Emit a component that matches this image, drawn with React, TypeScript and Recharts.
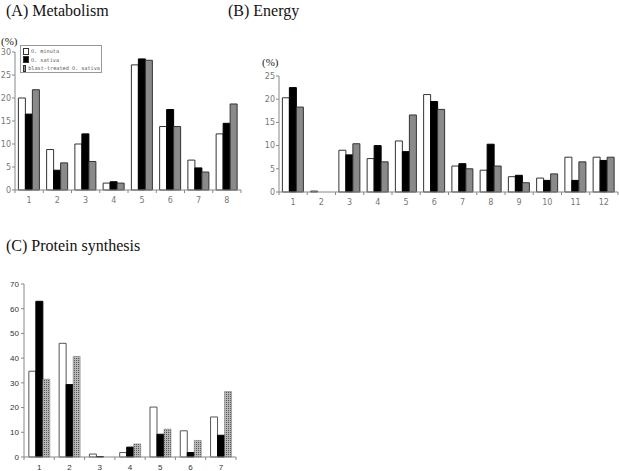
import React from 'react';
import { BarChart, Bar, XAxis, YAxis } from 'recharts';

const seriesNames = ['O. minuta', 'O. sativa', 'blast-treated O. sativa'];
const seriesFills = ['#ffffff', '#000000', '#8a8a8a'];

const metaCats = ['1', '2', '3', '4', '5', '6', '7', '8'];
const metaMinuta = [20, 8.8, 10, 1.5, 27.2, 13.8, 6.5, 12.2];
const metaSativa = [16.5, 4.3, 12.2, 1.8, 28.5, 17.5, 4.8, 14.5];
const metaBlast = [21.8, 5.9, 6.2, 1.5, 28.2, 13.8, 3.9, 18.7];
const metaTicks = [0, 5, 10, 15, 20, 25, 30];

const energyCats = ['1', '2', '3', '4', '5', '6', '7', '8', '9', '10', '11', '12'];
const energyMinuta = [20.3, 0.2, 9, 7.2, 11, 21, 5.6, 4.7, 3.3, 3, 7.5, 7.5];
const energySativa = [22.5, 0, 8, 10, 8.7, 19.5, 6.1, 10.3, 3.6, 2.5, 2.5, 6.8];
const energyBlast = [18.3, 0, 10.4, 6.5, 16.6, 17.8, 5, 5.6, 2, 3.9, 6.5, 7.5];
const energyTicks = [0, 5, 10, 15, 20, 25];

const protCats = ['1', '2', '3', '4', '5', '6', '7'];
const protMinuta = [34.7, 46, 1.2, 1.8, 20.2, 10.6, 16.2];
const protSativa = [63, 29.3, 0.2, 4, 9.2, 1.8, 8.8];
const protBlast = [31.5, 40.7, 0, 5.3, 11.3, 6.7, 26.5];
const protTicks = [0, 10, 20, 30, 40, 50, 60, 70];

const build = (cats: string[], a: number[], b: number[], c: number[]) =>
  cats.map((cat, i) => ({ cat, minuta: a[i], sativa: b[i], blast: c[i] }));

const metaData = build(metaCats, metaMinuta, metaSativa, metaBlast);
const energyData = build(energyCats, energyMinuta, energySativa, energyBlast);
const protData = build(protCats, protMinuta, protSativa, protBlast);

const makeCatTick = (font: string, color: string, size: number) => (props: any) => {
  const { x, y, payload, width, visibleTicksCount, index } = props;
  const half = width / visibleTicksCount / 2;
  return (
    <g>
      <line x1={x - half} x2={x - half} y1={y} y2={y + 3} stroke="#888" />
      {index === visibleTicksCount - 1 && (
        <line x1={x + half} x2={x + half} y1={y} y2={y + 3} stroke="#888" />
      )}
      <text x={x} y={y + 13} textAnchor="middle" fontFamily={font} fontSize={size} fill={color}>
        {payload.value}
      </text>
    </g>
  );
};

const LegendBox = () => (
  <div
    style={{
      position: 'absolute',
      left: 20,
      top: 45,
      width: 82,
      height: 28,
      boxSizing: 'border-box',
      border: '1px solid #999',
      background: '#fff',
      padding: '1px 1px 0 2px',
      fontFamily: '"DejaVu Sans Mono", monospace',
      fontSize: 5.2,
      color: '#555',
      lineHeight: '8.5px',
    }}
  >
    {seriesNames.map((name, i) => (
      <div key={i} style={{ display: 'flex', alignItems: 'center', whiteSpace: 'nowrap' }}>
        <span
          style={{
            display: 'inline-block',
            width: 4,
            height: 5,
            border: '1px solid #333',
            background: seriesFills[i],
            marginRight: 2,
          }}
        />
        <span>{name}</span>
      </div>
    ))}
  </div>
);

const tickA = { fontFamily: '"DejaVu Sans", sans-serif', fontSize: 8, fill: '#777' };
const tickC = { fontFamily: '"Liberation Sans", Arial, sans-serif', fontSize: 8, fill: '#333' };

const titleStyle: React.CSSProperties = {
  position: 'absolute',
  fontFamily: '"Liberation Serif", "Times New Roman", serif',
  fontSize: 16,
  color: '#111',
  whiteSpace: 'nowrap',
  lineHeight: '16px',
};

const pctStyle: React.CSSProperties = {
  position: 'absolute',
  fontFamily: '"Liberation Serif", "Times New Roman", serif',
  fontSize: 11,
  color: '#222',
  lineHeight: '11px',
};

export default function App() {
  return (
    <div style={{ position: 'absolute', left: 0, top: 0, width: 619, height: 471, background: '#fff', overflow: 'hidden' }}>
      <div style={{ ...titleStyle, left: 6, top: 3 }}>(A) Metabolism</div>
      <div style={{ ...titleStyle, left: 228, top: 3 }}>(B) Energy</div>
      <div style={{ ...titleStyle, left: 6, top: 238 }}>(C) Protein synthesis</div>
      <div style={{ ...pctStyle, left: 1, top: 36 }}>(%)</div>
      <div style={{ ...pctStyle, left: 262, top: 57 }}>(%)</div>

      <div style={{ position: 'absolute', left: 0, top: 0 }}>
        <BarChart width={250} height={215} data={metaData} margin={{ top: 52, right: 9, left: 0, bottom: 5 }} barCategoryGap="12%" barGap={0}>
          <XAxis dataKey="cat" height={20} axisLine={{ stroke: '#888' }} tickLine={false} tickSize={0} tickMargin={0} interval={0} tick={makeCatTick('"DejaVu Sans", sans-serif', '#777', 8)} />
          <YAxis width={15} domain={[0, 30]} ticks={metaTicks} tickSize={3} tickMargin={1} axisLine={{ stroke: '#888' }} tickLine={{ stroke: '#888' }} tick={tickA} />
          <Bar dataKey="minuta" name={seriesNames[0]} fill={seriesFills[0]} stroke="#333" strokeWidth={1} isAnimationActive={false} />
          <Bar dataKey="sativa" name={seriesNames[1]} fill={seriesFills[1]} stroke="#000" strokeWidth={1} isAnimationActive={false} />
          <Bar dataKey="blast" name={seriesNames[2]} fill={seriesFills[2]} stroke="#333" strokeWidth={1} isAnimationActive={false} />
        </BarChart>
      </div>
      <LegendBox />

      <div style={{ position: 'absolute', left: 250, top: 0 }}>
        <BarChart width={369} height={215} data={energyData} margin={{ top: 76, right: 1, left: 0, bottom: 3 }} barCategoryGap="12%" barGap={0}>
          <XAxis dataKey="cat" height={20} axisLine={{ stroke: '#888' }} tickLine={false} tickSize={0} tickMargin={0} interval={0} tick={makeCatTick('"DejaVu Sans", sans-serif', '#777', 8)} />
          <YAxis width={29} domain={[0, 25]} ticks={energyTicks} tickSize={3} tickMargin={1} axisLine={{ stroke: '#888' }} tickLine={{ stroke: '#888' }} tick={tickA} />
          <Bar dataKey="minuta" name={seriesNames[0]} fill={seriesFills[0]} stroke="#333" strokeWidth={1} isAnimationActive={false} />
          <Bar dataKey="sativa" name={seriesNames[1]} fill={seriesFills[1]} stroke="#000" strokeWidth={1} isAnimationActive={false} />
          <Bar dataKey="blast" name={seriesNames[2]} fill={seriesFills[2]} stroke="#333" strokeWidth={1} isAnimationActive={false} />
        </BarChart>
      </div>

      <div style={{ position: 'absolute', left: 0, top: 260 }}>
        <BarChart width={250} height={211} data={protData} margin={{ top: 24, right: 14, left: 0, bottom: 0 }} barCategoryGap="16%" barGap={0}>
          <defs>
            <pattern id="hatch" width="2" height="2" patternUnits="userSpaceOnUse">
              <rect width="2" height="2" fill="#b8b8b8" />
              <rect width="1" height="1" fill="#555555" />
            </pattern>
          </defs>
          <XAxis dataKey="cat" height={14} axisLine={{ stroke: '#888' }} tickLine={false} tickSize={0} tickMargin={0} interval={0} tick={makeCatTick('"Liberation Sans", Arial, sans-serif', '#333', 8)} />
          <YAxis width={24} domain={[0, 70]} ticks={protTicks} tickSize={3} tickMargin={2} axisLine={{ stroke: '#888' }} tickLine={{ stroke: '#888' }} tick={tickC} />
          <Bar dataKey="minuta" name={seriesNames[0]} fill="#ffffff" stroke="#555" strokeWidth={1} isAnimationActive={false} />
          <Bar dataKey="sativa" name={seriesNames[1]} fill="#000000" stroke="#000" strokeWidth={1} isAnimationActive={false} />
          <Bar dataKey="blast" name={seriesNames[2]} fill="url(#hatch)" stroke="#777" strokeWidth={0.5} isAnimationActive={false} />
        </BarChart>
      </div>
    </div>
  );
}
